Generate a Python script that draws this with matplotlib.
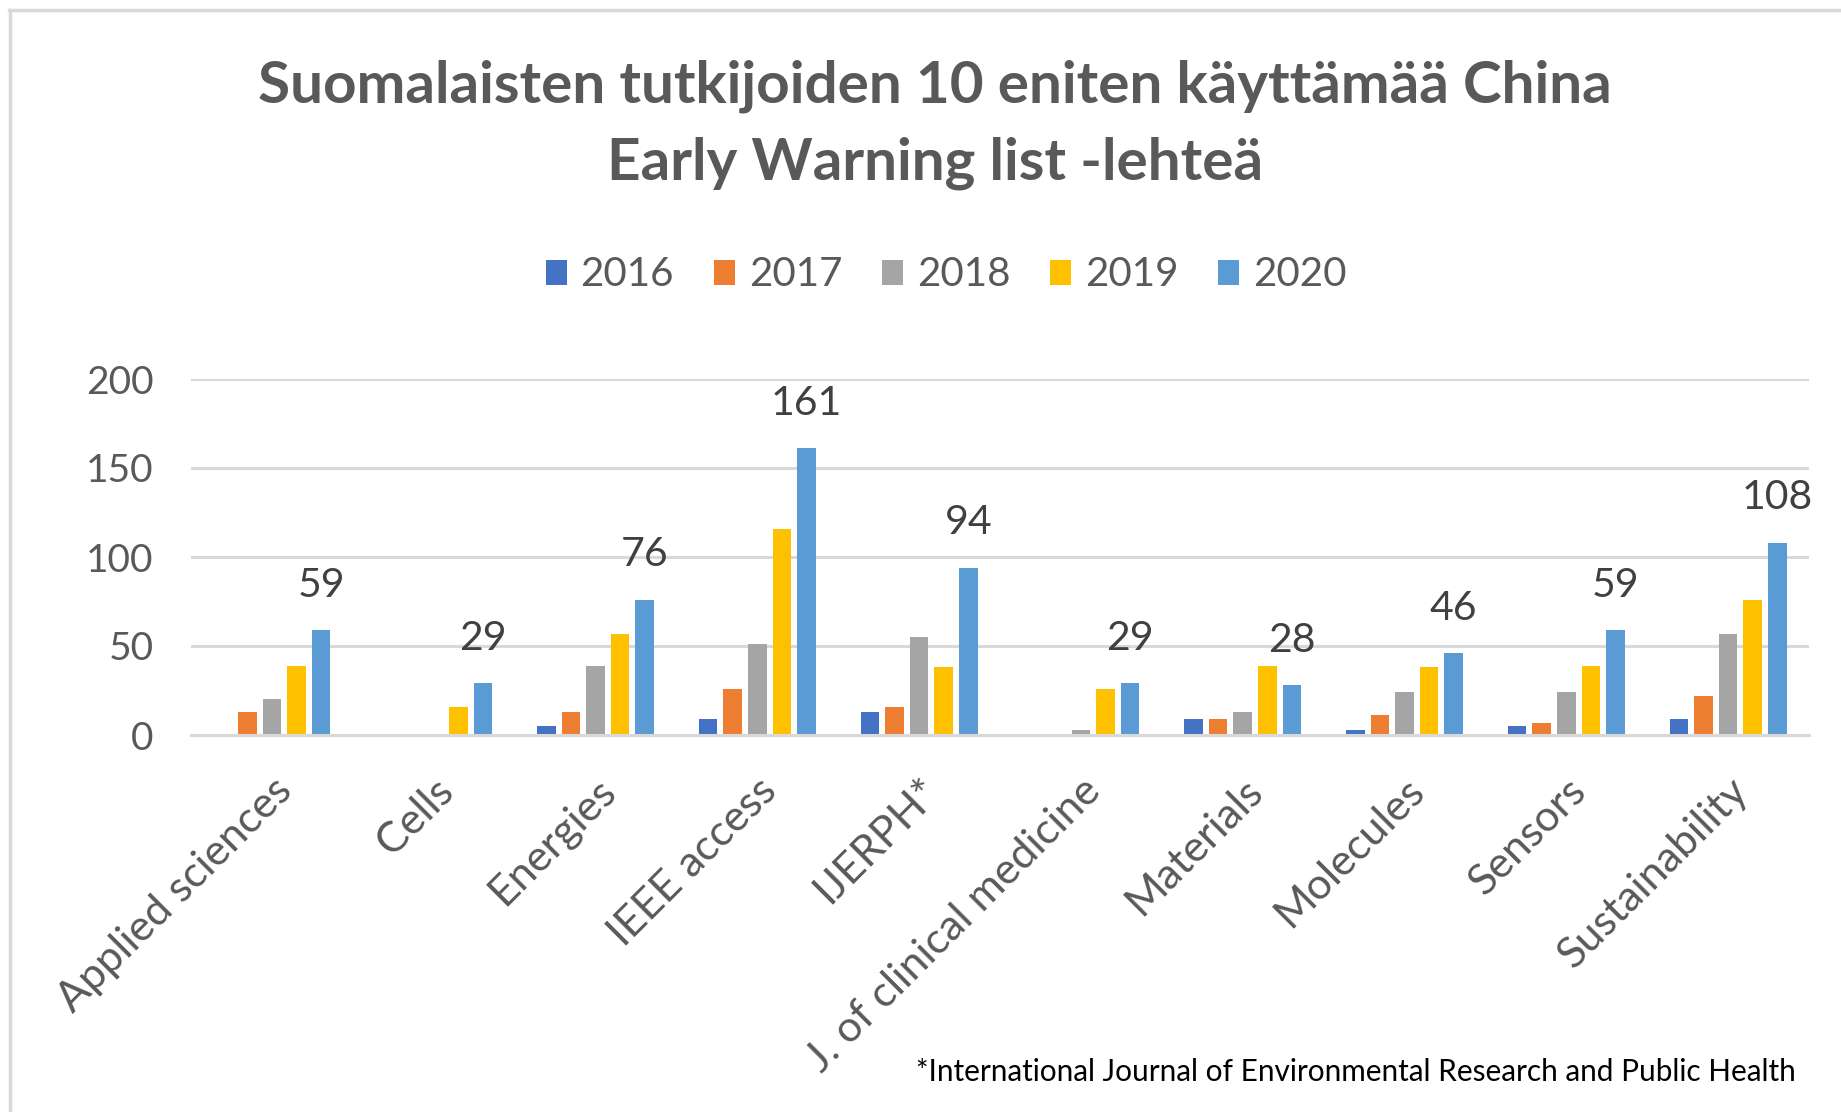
import matplotlib
matplotlib.use("Agg")
import matplotlib.pyplot as plt
import numpy as np
from matplotlib.patches import Patch
from matplotlib.lines import Line2D

plt.rcParams['font.family'] = ['Lato', 'DejaVu Sans']

categories = ["Applied sciences", "Cells", "Energies", "IEEE access", "IJERPH*",
              "J. of clinical medicine", "Materials", "Molecules", "Sensors", "Sustainability"]
years = ["2016", "2017", "2018", "2019", "2020"]
v2016 = [0, 0, 5, 9, 13, 0, 9, 3, 5, 9]
v2017 = [13, 0, 13, 26, 16, 0, 9, 11, 7, 22]
v2018 = [20, 0, 39, 51, 55, 3, 13, 24, 24, 57]
v2019 = [39, 16, 57, 116, 38, 26, 39, 38, 39, 76]
v2020 = [59, 29, 76, 161, 94, 29, 28, 46, 59, 108]
series = [v2016, v2017, v2018, v2019, v2020]
colors = ["#4472C4", "#ED7D31", "#A5A5A5", "#FFC000", "#5B9BD5"]
yticks = [0, 50, 100, 150, 200]
title1 = "Suomalaisten tutkijoiden 10 eniten käyttämää China"
title2 = "Early Warning list -lehteä"
footnote = "*International Journal of Environmental Research and Public Health"

W, H = 1841, 1112
fig = plt.figure(figsize=(W / 100, H / 100), dpi=100)
fig.patch.set_facecolor("white")

# frame lines (top and left)
fig.add_artist(Line2D([9 / W, 1], [1 - 10 / H, 1 - 10 / H], color="#D9D9D9", lw=2.5))
fig.add_artist(Line2D([10 / W, 10 / W], [0, 1 - 10 / H], color="#D9D9D9", lw=2.5))

ax = fig.add_axes([191 / W, 1 - 735 / H, (1809 - 191) / W, (735 - 379) / H])
x = np.arange(len(categories))
step = 0.152
width = 0.116
for i, (vals, c) in enumerate(zip(series, colors)):
    xs = x + (i - 2) * step
    ax.bar(xs, vals, width=width, color=c, label=years[i], zorder=2)
    if i == 4:
        for xi, v in zip(xs, vals):
            ax.annotate(str(v), (xi, v), xytext=(0, 24), textcoords="offset points",
                        ha="center", va="baseline", fontsize=29.5, color="#404040",
                        annotation_clip=False)

ax.set_xlim(-0.5, len(categories) - 0.5)
ax.set_ylim(0, 200)
ax.set_yticks(yticks)
ax.set_yticklabels([str(t) for t in yticks])
ax.yaxis.grid(True, color="#D9D9D9", lw=2.2, zorder=0)
ax.set_axisbelow(True)
for s in ["top", "right", "left"]:
    ax.spines[s].set_visible(False)
ax.spines["bottom"].set_color("#D9D9D9")
ax.spines["bottom"].set_linewidth(2.2)
ax.spines["bottom"].set_zorder(3)
ax.tick_params(axis="y", length=0, pad=27, labelsize=28, labelcolor="#595959")
ax.tick_params(axis="x", length=0, pad=26, labelsize=31, labelcolor="#595959")
ax.set_xticks(x)
ax.set_xticklabels(categories, rotation=45, ha="right", rotation_mode="anchor")

fig.text(0.508, 1 - 86 / H, title1, ha="center", va="center", fontsize=42,
         fontweight="bold", color="#595959")
fig.text(0.508, 1 - 163 / H, title2, ha="center", va="center", fontsize=42,
         fontweight="bold", color="#595959")

handles = [Patch(facecolor=c, edgecolor="none") for c in colors]
fig.legend(handles, years, loc="center", bbox_to_anchor=(0.514, 1 - 275 / H), ncol=5,
           frameon=False, fontsize=29, labelcolor="#595959", handlelength=0.5,
           handleheight=0.6, handletextpad=0.35, columnspacing=1.0)

fig.text(1796 / W, 1 - 1072 / H, footnote, ha="right", va="center", fontsize=21.4,
         color="#000000")

fig.savefig("out.png", dpi=100, facecolor="white")
